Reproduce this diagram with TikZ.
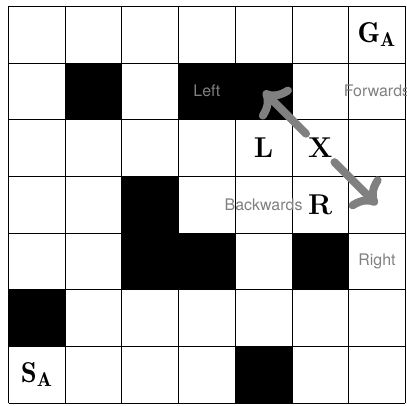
\documentclass[tikz,border=0pt]{standalone}
\usepackage{fontspec}
\setsansfont{TeX Gyre Heros}
\usepackage{tikz}
\usetikzlibrary{arrows.meta}

\begin{document}
\begin{tikzpicture}[
      agent/.style={font=\Large\bfseries, inner sep=2pt},
      dirlbl/.style={font=\footnotesize\sffamily, text=gray},
      arr/.style={-{To[round]}, line width=4pt, gray, line cap=round}
    ]
    \useasboundingbox (-0.15,-0.04) rectangle (7.03,7.11);

    % Walls
    \foreach \x/\y in {1/5, 3/5, 4/5, 2/3, 2/2, 3/2, 5/2, 0/1, 4/0}
      \fill[black] (\x,\y) rectangle ++(1,1);
    \draw (0,0) grid (7,7);

    \node[agent] (goal)  at (6.5,6.5) {$\mathbf{G_A}$};
    \node[agent] (start) at (0.5,0.5) {$\mathbf{S_A}$};
    \node[agent] (L) at (4.5,4.5) {L};
    \node[agent] (X) at (5.5,4.5) {X};
    \node[agent] (R) at (5.5,3.5) {R};

    \node[dirlbl] (left)  at (3.5,5.5) {Left};
    \node[dirlbl] (fwd)   at (6.5,5.5) {Forwards};
    \node[dirlbl] (back)  at (4.5,3.5) {Backwards};
    \node[dirlbl] (right) at (6.5,2.5) {Right};

    % Moves of X
    \coordinate (lefttip)  at (4.5,5.5);
    \coordinate (righttip) at (6.5,3.5);
    \draw[arr] (X) -- (lefttip);
    \draw[arr] (X) -- (righttip);
  \end{tikzpicture}
\end{document}
